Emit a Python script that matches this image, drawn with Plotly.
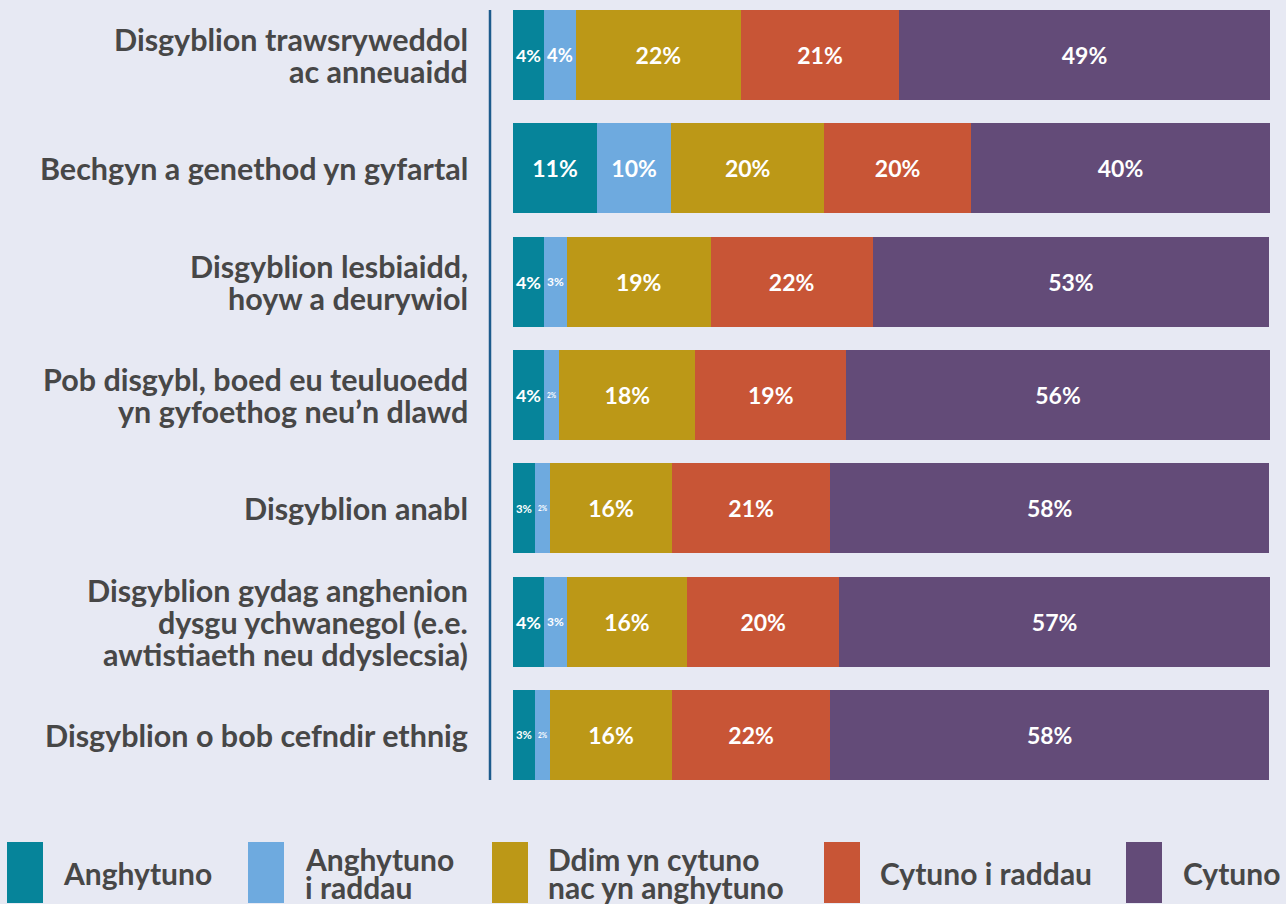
import plotly.graph_objects as go

categories = [
    "Disgyblion trawsryweddol\nac anneuaidd",
    "Bechgyn a genethod yn gyfartal",
    "Disgyblion lesbiaidd,\nhoyw a deurywiol",
    "Pob disgybl, boed eu teuluoedd\nyn gyfoethog neu’n dlawd",
    "Disgyblion anabl",
    "Disgyblion gydag anghenion\ndysgu ychwanegol (e.e.\nawtistiaeth neu ddyslecsia)",
    "Disgyblion o bob cefndir ethnig",
]

series_names = ["Anghytuno", "Anghytuno\ni raddau", "Ddim yn cytuno\nnac yn anghytuno", "Cytuno i raddau", "Cytuno"]
series_colors = ["#06849a", "#6eaadf", "#bc9817", "#c85536", "#634b78"]

# bar lengths
anghytuno = [4.1, 11.1, 4.1, 4.1, 2.9, 4.1, 2.9]
anghytuno_i_raddau = [4.2, 9.8, 3.0, 2.0, 2.0, 3.0, 2.0]
ddim_yn_cytuno = [21.8, 20.2, 19.0, 18.0, 16.1, 15.9, 16.1]
cytuno_i_raddau = [20.9, 19.4, 21.4, 19.9, 20.9, 20.1, 20.9]
cytuno = [49.0, 39.5, 52.4, 56.0, 58.0, 56.9, 58.0]

# printed labels
lab_anghytuno = [4, 11, 4, 4, 3, 4, 3]
lab_anghytuno_i_raddau = [4, 10, 3, 2, 2, 3, 2]
lab_ddim = [22, 20, 19, 18, 16, 16, 16]
lab_cytuno_i_raddau = [21, 20, 22, 19, 21, 20, 22]
lab_cytuno = [49, 40, 53, 56, 58, 57, 58]

values = [anghytuno, anghytuno_i_raddau, ddim_yn_cytuno, cytuno_i_raddau, cytuno]
labels = [lab_anghytuno, lab_anghytuno_i_raddau, lab_ddim, lab_cytuno_i_raddau, lab_cytuno]

FONT = "Lato"
TXT = "#474747"
BG = "#e7e9f3"

W, H = 1286, 904
L, R, T, B = 513, 16, 10, 124
pw = W - L - R
ph = H - T - B

BARGAP = 0.206
HALF = (1 - BARGAP) / 2

def px_x(px):
    return (px - L) / pw

def px_y(py):
    return (H - B - py) / ph

fig = go.Figure()
for name, vals, labs, col in zip(series_names, values, labels, series_colors):
    fig.add_trace(go.Bar(
        y=list(range(len(categories))),
        x=vals,
        orientation="h",
        name=name.replace("\n", " "),
        marker=dict(color=col, line=dict(width=0)),
        text=[f"{v}%" for v in labs],
        textposition="inside",
        insidetextanchor="middle",
        textangle=0,
        textfont=dict(family=FONT, size=23, color="white", weight="bold"),
        showlegend=False,
    ))

annotations = []
# category labels
for i, cat in enumerate(categories):
    lines = cat.split("\n")
    n = len(lines)
    for j, line in enumerate(lines):
        annotations.append(dict(
            x=px_x(470), xref="paper", xanchor="right",
            y=i, yref="y", yanchor="middle",
            yshift=((n - 1) / 2 - j) * 32,
            text=line, showarrow=False,
            font=dict(family=FONT, size=30.5, color=TXT, weight="bold"),
        ))

# custom legend
sw_x = [7, 248, 492, 824, 1126]
tx_x = [61, 303, 546, 878, 1181]
shapes = []
for k, (name, col) in enumerate(zip(series_names, series_colors)):
    shapes.append(dict(type="rect", xref="paper", yref="paper",
                       x0=px_x(sw_x[k]), x1=px_x(sw_x[k] + 36),
                       y0=px_y(903), y1=px_y(842),
                       fillcolor=col, line=dict(width=0)))
    lines = name.split("\n")
    n = len(lines)
    for j, line in enumerate(lines):
        annotations.append(dict(
            x=px_x(tx_x[k]), xref="paper", xanchor="left",
            y=px_y(873), yref="paper", yanchor="middle",
            yshift=((n - 1) / 2 - j) * 28,
            text=line, showarrow=False,
            font=dict(family=FONT, size=30, color=TXT, weight="bold"),
        ))

# vertical divider line
shapes.append(dict(type="line", xref="paper", yref="paper",
                   x0=px_x(490), x1=px_x(490), y0=0, y1=1,
                   line=dict(color="#1d5b8c", width=2.5)))

fig.update_layout(
    width=W, height=H,
    margin=dict(l=L, r=R, t=T, b=B),
    paper_bgcolor=BG, plot_bgcolor=BG,
    barmode="stack",
    bargap=BARGAP,
    xaxis=dict(range=[0, 100], visible=False, fixedrange=True),
    yaxis=dict(range=[len(categories) - 1 + HALF, -HALF], visible=False, fixedrange=True),
    annotations=annotations,
    shapes=shapes,
)

fig.write_html(
    "out.html",
    config={"displayModeBar": False},
    post_script="document.body.style.margin='0';document.body.style.overflow='hidden';document.body.style.background='" + BG + "';",
)
